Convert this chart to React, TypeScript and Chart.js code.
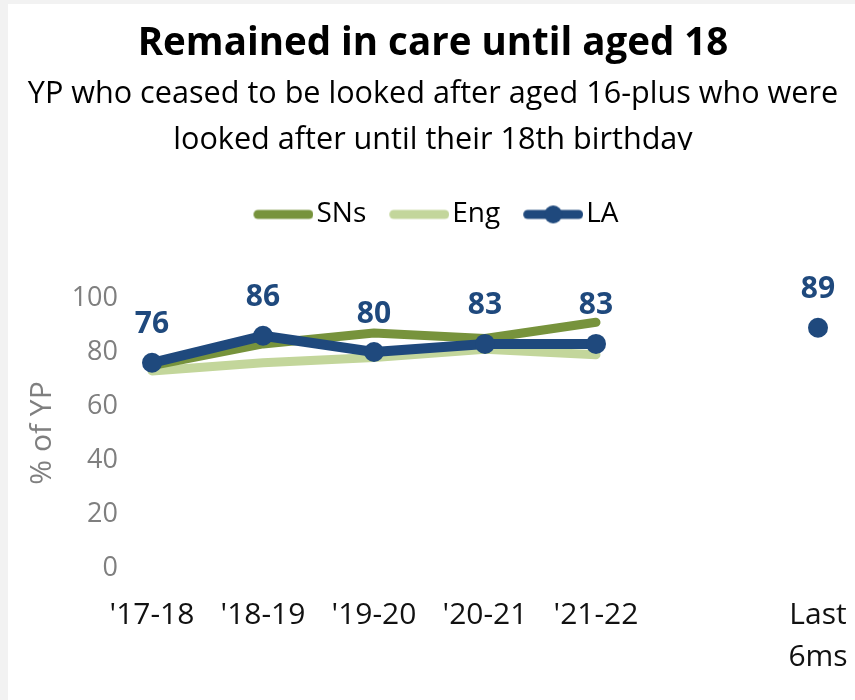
import { useEffect, useRef } from "react";
import { Chart, registerables } from "chart.js";

Chart.register(...registerables);

// Categories, series and axis ticks
const periods: (string | string[])[] = ["'17-18", "'18-19", "'19-20", "'20-21", "'21-22", "", ["Last", "6ms"]];
const snsValues: (number | null)[] = [75, 83, 87, 85, 91, null, null];
const engValues: (number | null)[] = [73, 76, 78, 81, 79, null, null];
const laValues: (number | null)[] = [76, 86, 80, 83, 83, null, 89];
const yTicks = [0, 20, 40, 60, 80, 100];
const seriesNames = ["SNs", "Eng", "LA"];

const SNS_COLOR = "#77933C";
const ENG_COLOR = "#C3D69B";
const LA_COLOR = "#1F497D";
const AXIS_GREY = "#7F7F7F";
const FONT = "'Open Sans', 'Noto Sans', sans-serif";

const CANVAS_W = 850;
const CANVAS_H = 696;

// Legend key: a thick rounded line (with a dot for the LA series)
function legendKey(color: string, withDot: boolean): HTMLCanvasElement {
  const lead = 17;
  const len = 60;
  const h = 24;
  const c = document.createElement("canvas");
  c.width = lead + len;
  c.height = h;
  const ctx = c.getContext("2d")!;
  ctx.strokeStyle = color;
  ctx.lineWidth = 9;
  ctx.lineCap = "round";
  ctx.beginPath();
  ctx.moveTo(lead + 4.5, h / 2);
  ctx.lineTo(lead + len - 4.5, h / 2);
  ctx.stroke();
  if (withDot) {
    ctx.fillStyle = color;
    ctx.beginPath();
    ctx.arc(lead + len / 2, h / 2, 9, 0, Math.PI * 2);
    ctx.fill();
  }
  return c;
}

// Extra room between the legend row and the plot
const legendGap = {
  id: "legendGap",
  beforeInit(chart: any) {
    const legend = chart.legend;
    const fit = legend.fit;
    legend.fit = function () {
      fit.call(this);
      this.height += 59.6;
    };
  },
};

// The subtitle sits in a fixed-height text box, so its last line is cut off at the bottom
const subtitleBox = {
  id: "subtitleBox",
  afterDraw(chart: any) {
    const { ctx } = chart;
    ctx.save();
    ctx.fillStyle = "#ffffff";
    ctx.fillRect(0, 146, chart.width, 24);
    ctx.restore();
  },
};

// Value labels above the LA points
const valueLabels = {
  id: "valueLabels",
  afterDatasetsDraw(chart: any) {
    const meta = chart.getDatasetMeta(2);
    const { ctx } = chart;
    ctx.save();
    ctx.font = `bold 30px ${FONT}`;
    ctx.fillStyle = LA_COLOR;
    ctx.textAlign = "center";
    ctx.textBaseline = "middle";
    meta.data.forEach((pt: any, i: number) => {
      const v = laValues[i];
      if (v === null || v === undefined) return;
      ctx.fillText(String(v), pt.x, pt.y - 38);
    });
    ctx.restore();
  },
};

export default function App() {
  const canvasRef = useRef<HTMLCanvasElement | null>(null);

  useEffect(() => {
    const canvas = canvasRef.current;
    if (!canvas) return;

    const keys = [legendKey(SNS_COLOR, false), legendKey(ENG_COLOR, false), legendKey(LA_COLOR, true)];
    const colors = [SNS_COLOR, ENG_COLOR, LA_COLOR];

    const chart = new Chart(canvas, {
      type: "line",
      data: {
        labels: periods,
        datasets: [
          {
            label: seriesNames[0],
            data: snsValues,
            borderColor: SNS_COLOR,
            backgroundColor: SNS_COLOR,
            borderWidth: 9,
            borderCapStyle: "round",
            borderJoinStyle: "round",
            pointRadius: 0,
            pointHoverRadius: 0,
            tension: 0,
            clip: false,
            order: 1,
          },
          {
            label: seriesNames[1],
            data: engValues,
            borderColor: ENG_COLOR,
            backgroundColor: ENG_COLOR,
            borderWidth: 9,
            borderCapStyle: "round",
            borderJoinStyle: "round",
            pointRadius: 0,
            pointHoverRadius: 0,
            tension: 0,
            clip: false,
            order: 2,
          },
          {
            label: seriesNames[2],
            data: laValues,
            borderColor: LA_COLOR,
            backgroundColor: LA_COLOR,
            borderWidth: 10,
            borderCapStyle: "round",
            borderJoinStyle: "round",
            pointRadius: 10,
            pointHoverRadius: 10,
            pointBorderWidth: 0,
            pointBackgroundColor: LA_COLOR,
            tension: 0,
            spanGaps: false,
            clip: false,
            order: 0,
          },
        ],
      },
      options: {
        responsive: false,
        animation: false,
        events: [],
        layout: { padding: 0 },
        plugins: {
          title: {
            display: true,
            text: "Remained in care until aged 18",
            color: "#000000",
            font: { family: FONT, size: 38.5, weight: "bold", lineHeight: 1.2 },
            padding: { top: 17, bottom: 0 },
          },
          subtitle: {
            display: true,
            text: [
              "YP who ceased to be looked after aged 16-plus who were",
              "looked after until their 18th birthday",
            ],
            color: "#000000",
            font: { family: FONT, size: 30.6, lineHeight: 46 / 30.6 },
            padding: { top: 4, bottom: 20.2 },
          },
          legend: {
            display: true,
            position: "top",
            labels: {
              usePointStyle: true,
              pointStyleWidth: 55,
              padding: 17,
              color: "#000000",
              font: { family: FONT, size: 28 },
              generateLabels: () =>
                seriesNames.map((name, i) => ({
                  text: name,
                  pointStyle: keys[i],
                  fillStyle: colors[i],
                  strokeStyle: colors[i],
                  lineWidth: 0,
                  hidden: false,
                  datasetIndex: i,
                  fontColor: "#000000",
                })),
            },
          },
          tooltip: { enabled: false },
        },
        scales: {
          x: {
            type: "category",
            grid: { display: false, drawTicks: false },
            border: { display: false },
            ticks: {
              color: "#111111",
              font: { family: FONT, size: 30, lineHeight: 1.4 },
              padding: 26,
              maxRotation: 0,
              minRotation: 0,
              autoSkip: false,
            },
            afterFit: (s: any) => {
              s.height = 132;
              s.paddingLeft = 0;
              s.paddingRight = 40;
            },
          },
          y: {
            type: "linear",
            min: 0,
            max: 100,
            grid: { display: false, drawTicks: false },
            border: { display: false },
            ticks: {
              color: AXIS_GREY,
              font: { family: FONT, size: 27 },
              padding: 34,
              stepSize: 20,
            },
            afterBuildTicks: (s: any) => {
              s.ticks = yTicks.map((value) => ({ value }));
            },
            title: {
              display: true,
              text: "% of YP",
              color: AXIS_GREY,
              font: { family: FONT, size: 30, lineHeight: 1.2 },
              padding: { top: 16, bottom: 0 },
            },
            afterFit: (s: any) => {
              s.width = 144;
            },
          },
        },
      },
      plugins: [legendGap, subtitleBox, valueLabels],
    } as any);

    return () => chart.destroy();
  }, []);

  return (
    <div style={{ position: "fixed", inset: 0, background: "#f2f2f2", overflow: "hidden" }}>
      <div
        style={{
          position: "absolute",
          left: 8,
          top: 4,
          width: CANVAS_W,
          height: CANVAS_H,
          background: "#ffffff",
        }}
      >
        <canvas ref={canvasRef} width={CANVAS_W} height={CANVAS_H} style={{ display: "block" }} />
      </div>
    </div>
  );
}
